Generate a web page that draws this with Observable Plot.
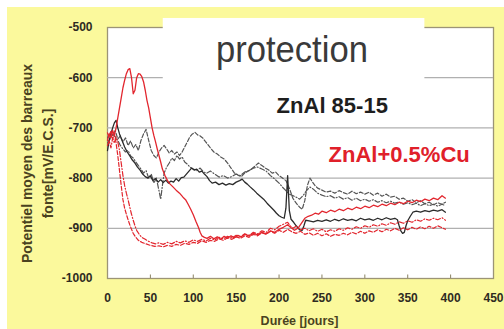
<!DOCTYPE html>
<html><head><meta charset="utf-8">
<script src="https://cdn.jsdelivr.net/npm/d3@7"></script>
<script src="https://cdn.jsdelivr.net/npm/@observablehq/plot@0.6"></script>
<style>body{margin:0;background:#fff;overflow:hidden}</style>
</head><body><div id="chart"></div>
<script>
// ---- data (days, potential mV/E.C.S.) ----
const xTicks = [0,50,100,150,200,250,300,350,400,450];
const yTicks = [-1000,-900,-800,-700,-600,-500];
const gridValues = [-600,-700,-800,-900];
const titleText = "protection";
const seriesLabels = ["ZnAl 85-15","ZnAl+0.5%Cu"];
const xLabel = "Durée [jours]";
const yLabel1 = "Potentiel moyen des barreaux";
const yLabel2 = "fonte[mV/E.C.S.]";

// ZnAl 85-15 (black)
const znalSolid = [[0,-745],[2,-725],[4,-712],[6,-700],[8,-690],[10,-685],[12,-700],[14,-712],[17,-725],[20,-738],[23,-748],[26,-756],[29,-764],[32,-770],[35,-778],[38,-784],[41,-792],[44,-797],[47,-800],[50,-796],[53,-805],[56,-801],[59,-808],[62,-803],[65,-809],[68,-804],[71,-810],[74,-806],[77,-808],[80,-801],[83,-806],[86,-799],[89,-798],[92,-792],[95,-786],[98,-780],[101,-784],[104,-782],[107,-788],[110,-786],[113,-792],[116,-797],[119,-805],[122,-810],[126,-808],[130,-813],[134,-810],[138,-814],[142,-811],[146,-813],[150,-808],[154,-805],[157,-802],[160,-808],[163,-812],[166,-817],[170,-823],[174,-830],[178,-836],[182,-842],[186,-850],[190,-857],[194,-864],[197,-870],[200,-875],[203,-878],[206,-880],[208,-860],[210,-795],[212,-865],[214,-882],[217,-888],[220,-895],[224,-903],[227,-904],[229,-895],[231,-884],[235,-885],[240,-887],[245,-884],[250,-886],[255,-883],[260,-886],[265,-882],[270,-885],[275,-881],[280,-884],[285,-882],[290,-885],[295,-880],[300,-883],[305,-881],[310,-884],[315,-880],[320,-883],[325,-879],[330,-882],[335,-880],[338,-883],[340,-895],[342,-905],[344,-910],[346,-908],[348,-895],[350,-885],[353,-876],[356,-868],[360,-866],[365,-868],[370,-865],[375,-867],[380,-864],[385,-866],[390,-863],[394,-868]];
const znalDashA = [[0,-720],[3,-710],[6,-715],[9,-705],[12,-722],[15,-716],[18,-728],[21,-720],[24,-735],[27,-726],[30,-740],[33,-733],[36,-745],[39,-725],[42,-712],[45,-703],[48,-725],[51,-745],[54,-755],[57,-760],[60,-748],[63,-740],[66,-735],[69,-742],[72,-750],[75,-745],[78,-752],[81,-748],[84,-755],[87,-748],[90,-738],[93,-728],[96,-718],[99,-712],[102,-709],[105,-714],[108,-716],[111,-720],[114,-727],[117,-733],[120,-740],[124,-748],[128,-752],[132,-758],[136,-762],[140,-770],[144,-780],[148,-790],[152,-794],[156,-797],[160,-790],[164,-786],[168,-782],[172,-776],[176,-770],[180,-775],[184,-780],[188,-784],[192,-790],[196,-788],[200,-795],[204,-800],[208,-805],[212,-820],[216,-840],[220,-850],[224,-858],[227,-862],[230,-845],[233,-815],[236,-800],[239,-808],[242,-815],[245,-820],[250,-824],[255,-828],[260,-826],[265,-830],[270,-825],[275,-829],[280,-832],[285,-826],[290,-831],[295,-828],[300,-832],[305,-828],[310,-834],[315,-830],[320,-836],[325,-832],[330,-838],[335,-836],[340,-842],[345,-840],[350,-846],[355,-843],[360,-849],[365,-845],[370,-851],[375,-848],[380,-853],[385,-849],[390,-852],[394,-848]];
const znalDashB = [[0,-730],[3,-722],[6,-712],[9,-718],[12,-725],[15,-735],[18,-742],[21,-748],[24,-745],[27,-756],[30,-760],[33,-768],[36,-775],[39,-782],[42,-790],[45,-785],[48,-800],[51,-792],[54,-810],[57,-800],[60,-825],[62,-842],[64,-815],[66,-790],[69,-778],[72,-770],[75,-760],[78,-765],[81,-755],[84,-762],[87,-758],[90,-768],[93,-772],[96,-778],[100,-782],[104,-785],[108,-780],[112,-788],[116,-790],[120,-786],[125,-792],[130,-798],[135,-795],[140,-800],[145,-797],[150,-792],[155,-795],[160,-788],[165,-785],[170,-780],[175,-778],[180,-782],[185,-786],[190,-795],[195,-802],[200,-810],[204,-818],[208,-825],[212,-832],[216,-835],[220,-838],[224,-842],[228,-835],[232,-825],[236,-818],[240,-822],[245,-830],[250,-834],[255,-837],[260,-835],[265,-840],[270,-837],[275,-842],[280,-839],[285,-844],[290,-840],[295,-845],[300,-842],[305,-846],[310,-843],[315,-848],[320,-845],[325,-849],[330,-846],[335,-850],[340,-848],[345,-852],[350,-849],[355,-853],[360,-850],[365,-855],[370,-851],[375,-855],[380,-852],[385,-856],[390,-852],[394,-855]];

// ZnAl+0.5%Cu (red)
const cuSolid = [[0,-725],[2,-712],[4,-720],[6,-705],[8,-715],[10,-700],[12,-680],[14,-660],[16,-640],[18,-620],[20,-605],[22,-592],[24,-584],[26,-582],[28,-600],[30,-632],[32,-625],[34,-600],[36,-592],[38,-593],[40,-598],[42,-608],[44,-625],[46,-645],[48,-660],[50,-680],[52,-700],[54,-715],[56,-728],[58,-742],[60,-755],[62,-768],[64,-782],[67,-795],[70,-805],[73,-812],[76,-817],[80,-824],[84,-830],[88,-838],[91,-843],[94,-852],[97,-862],[100,-873],[103,-886],[106,-898],[108,-908],[110,-915],[113,-918],[116,-920],[120,-916],[124,-921],[128,-917],[132,-922],[136,-916],[140,-920],[144,-915],[148,-919],[152,-914],[156,-917],[160,-912],[165,-915],[170,-910],[175,-913],[180,-908],[185,-911],[190,-905],[195,-908],[200,-902],[205,-898],[210,-893],[214,-899],[218,-904],[222,-900],[226,-890],[230,-880],[234,-876],[238,-874],[242,-870],[246,-872],[250,-866],[255,-869],[260,-864],[265,-867],[270,-862],[275,-865],[280,-860],[285,-863],[290,-858],[295,-861],[300,-856],[305,-859],[310,-854],[315,-857],[320,-852],[325,-855],[330,-850],[335,-853],[340,-848],[345,-851],[350,-846],[355,-849],[360,-844],[365,-847],[370,-842],[375,-845],[380,-840],[385,-843],[390,-835],[394,-840]];
const cuDashA = [[0,-710],[2,-718],[4,-705],[6,-722],[8,-712],[10,-730],[12,-755],[14,-785],[16,-815],[18,-843],[20,-860],[22,-872],[24,-883],[26,-893],[28,-902],[30,-910],[33,-918],[36,-924],[40,-928],[45,-931],[50,-934],[55,-936],[60,-935],[65,-937],[70,-934],[75,-936],[80,-932],[85,-934],[90,-930],[95,-932],[100,-928],[105,-930],[110,-925],[115,-928],[120,-924],[125,-926],[130,-921],[135,-924],[140,-919],[145,-922],[150,-917],[155,-920],[160,-915],[165,-918],[170,-912],[175,-915],[180,-909],[185,-912],[190,-906],[195,-910],[200,-904],[205,-908],[210,-902],[215,-907],[220,-910],[225,-906],[230,-912],[235,-909],[240,-914],[245,-910],[250,-915],[255,-911],[260,-916],[265,-912],[270,-914],[275,-910],[280,-913],[285,-908],[290,-911],[295,-906],[300,-910],[305,-905],[310,-908],[315,-903],[320,-907],[325,-902],[330,-905],[335,-900],[340,-904],[345,-899],[350,-903],[355,-898],[360,-902],[365,-897],[370,-901],[375,-896],[380,-900],[385,-895],[390,-899],[394,-902]];
const cuDashB = [[0,-735],[2,-725],[4,-740],[6,-720],[8,-730],[10,-718],[12,-728],[14,-745],[16,-770],[18,-795],[20,-815],[22,-830],[24,-843],[26,-858],[28,-872],[30,-884],[32,-895],[34,-904],[37,-912],[40,-918],[44,-922],[48,-926],[52,-929],[56,-931],[60,-929],[65,-932],[70,-928],[75,-931],[80,-926],[85,-929],[90,-925],[95,-928],[100,-923],[105,-926],[110,-922],[115,-925],[120,-920],[125,-923],[130,-918],[135,-921],[140,-916],[145,-919],[150,-914],[155,-917],[160,-911],[165,-914],[170,-908],[175,-911],[180,-905],[185,-908],[190,-900],[195,-903],[200,-896],[205,-892],[210,-888],[213,-895],[216,-900],[220,-896],[225,-903],[230,-900],[235,-905],[240,-901],[245,-906],[250,-902],[255,-907],[260,-903],[265,-906],[270,-901],[275,-904],[280,-899],[285,-902],[290,-897],[295,-900],[300,-895],[305,-898],[310,-893],[315,-896],[320,-891],[325,-894],[330,-889],[335,-892],[340,-887],[345,-890],[350,-885],[355,-888],[360,-883],[365,-886],[370,-881],[375,-884],[380,-880],[385,-883],[390,-879],[394,-884]];

// ---- styles ----
const BLACK = "#2b2b2b", GREY = "#555555", RED = "#e2262e";
const textCol = "#2e2b22";
const font = "'Liberation Sans', Arial, sans-serif";
const fmt = d => String(d);

function lineMark(data, stroke, dash, width) {
  return Plot.line(data, {x: d => d[0], y: d => d[1], stroke, strokeWidth: width, strokeDasharray: dash, curve: "linear"});
}

const chart = Plot.plot({
  width: 504, height: 329,
  marginLeft: 107, marginRight: 11, marginTop: 27, marginBottom: 51,
  style: {background: "white", fontFamily: font},
  x: {domain: [0, 450]},
  y: {domain: [-1000, -500]},
  marks: [
    Plot.frame({fill: "white", stroke: "#9c9476", strokeWidth: 1.3}),
    Plot.ruleY(gridValues, {stroke: "#b0b0b0", strokeWidth: 1.2}),
    Plot.rect([{x1: 65, x2: 370, y1: -482, y2: -621}], {x1: "x1", x2: "x2", y1: "y1", y2: "y2", fill: "white"}),
    Plot.ruleX(xTicks.slice(1, -1), {y1: -1000, y2: -993, stroke: "#8a8262"}),
    lineMark(znalDashA, GREY, "4,2", 1.2),
    lineMark(znalDashB, GREY, "5,2,1,2", 1.2),
    lineMark(znalSolid, BLACK, null, 1.3),
    lineMark(cuDashA, RED, "4,2", 1.2),
    lineMark(cuDashB, RED, "5,2,1,2", 1.2),
    lineMark(cuSolid, RED, null, 1.3),
    Plot.axisX(xTicks, {tickSize: 0, tickPadding: 15, tickFormat: fmt, fontWeight: "bold", fontSize: 12, fill: textCol, label: null}),
    Plot.axisY(yTicks, {tickSize: 0, tickPadding: 15, tickFormat: fmt, fontWeight: "bold", fontSize: 12, fill: textCol, label: null}),
    Plot.text([titleText], {x: 215, y: -569, text: d => d, fontSize: 37, fill: "#3a3a3a", lineAnchor: "bottom", textAnchor: "middle"}),
    Plot.text([seriesLabels[0]], {x: 262, y: -670.5, text: d => d, fontSize: 22, fontWeight: "bold", fill: "#1e1e1e", lineAnchor: "bottom"}),
    Plot.text([seriesLabels[1]], {x: 340, y: -768, text: d => d, fontSize: 22, fontWeight: "bold", fill: "#e0202a", lineAnchor: "bottom"}),
    Plot.text([xLabel], {frameAnchor: "bottom", text: d => d, dy: 46, dx: -1, fontSize: 12.5, fontWeight: "bold", fill: "#4a4220"}),
    Plot.text([yLabel1], {frameAnchor: "left", textAnchor: "middle", text: d => d, rotate: -90, dx: -80, dy: 10.5, fontSize: 14, fontWeight: "bold", fill: "#4a4220"}),
    Plot.text([yLabel2], {frameAnchor: "left", textAnchor: "middle", text: d => d, rotate: -90, dx: -59, dy: 10.5, fontSize: 14, fontWeight: "bold", fill: "#4a4220"})
  ]
});

// yellow page background behind the plot (decorative)
d3.select(chart).insert("rect", ":first-child")
  .attr("x", 7).attr("y", 7).attr("width", 497).attr("height", 322).attr("fill", "#fbf99c");
d3.select(chart).selectAll("text").filter(function(){ return this.textContent === titleText; })
  .attr("textLength", 152).attr("lengthAdjust", "spacingAndGlyphs");

document.getElementById("chart").appendChild(chart);
</script>
</body></html>
